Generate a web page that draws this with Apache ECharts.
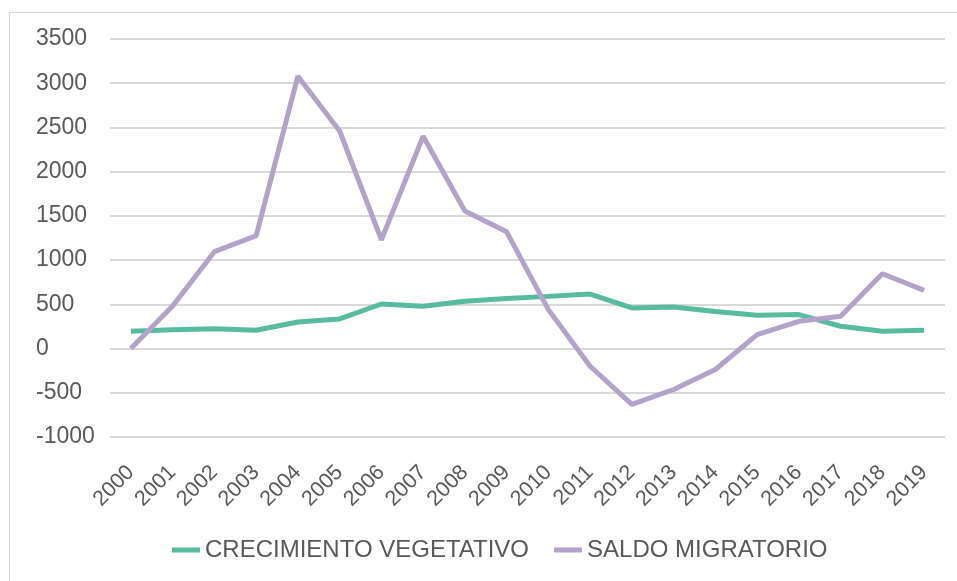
<!DOCTYPE html>
<html lang="es">
<head>
  <meta charset="UTF-8" />
  <title>Crecimiento vegetativo y saldo migratorio</title>
  <script src="https://cdn.jsdelivr.net/npm/echarts@6/dist/echarts.min.js"></script>
  <style>
    html, body { margin: 0; padding: 0; background: #fff; }
    #frame { position: absolute; left: 9px; top: 12px; width: 960px; height: 600px;
      border-top: 1px solid #d9d9d9; border-left: 1px solid #d9d9d9; }
    #chart { position: absolute; left: 0; top: 0; width: 957px; height: 581px; }
  </style>
</head>
<body>
  <div id="frame"></div>
  <div id="chart"></div>
  <script>
    const years = ['2000', '2001', '2002', '2003', '2004', '2005', '2006', '2007', '2008', '2009',
      '2010', '2011', '2012', '2013', '2014', '2015', '2016', '2017', '2018', '2019'];
    const crecimientoVegetativo = [195, 214, 225, 207, 300, 335, 504, 478, 535, 565,
      590, 616, 459, 470, 420, 376, 384, 252, 196, 207];
    const saldoMigratorio = [0, 480, 1095, 1275, 3080, 2460, 1230, 2400, 1555, 1320,
      440, -200, -632, -463, -237, 158, 308, 365, 846, 658];

    const GREEN = '#56bb9f';
    const PURPLE = '#b3a3cb';
    const TEXT = '#595959';

    const chart = echarts.init(document.getElementById('chart'));
    chart.setOption({
      animation: false,
      textStyle: { fontFamily: '"Liberation Sans", Arial, sans-serif' },
      grid: { left: 110, right: 12, top: 39, height: 398 },
      legend: {
        bottom: 14,
        left: 167,
        itemGap: 25,
        itemWidth: 28,
        itemHeight: 5,
        icon: 'rect',
        textStyle: { color: TEXT, fontSize: 24 },
        data: ['CRECIMIENTO VEGETATIVO', 'SALDO MIGRATORIO']
      },
      xAxis: {
        type: 'category',
        data: years,
        boundaryGap: true,
        axisLine: { show: false },
        axisTick: { show: false },
        axisLabel: { rotate: 45, color: TEXT, fontSize: 21.5, margin: 32, interval: 0 }
      },
      yAxis: {
        type: 'value',
        min: -1000,
        max: 3500,
        interval: 500,
        axisLine: { show: false },
        axisTick: { show: false },
        axisLabel: { color: TEXT, fontSize: 23, align: 'left', margin: 74,
          formatter: (v) => String(v) },
        splitLine: { lineStyle: { color: '#d9d9d9', width: 2 } }
      },
      series: [
        {
          name: 'CRECIMIENTO VEGETATIVO',
          type: 'line',
          data: crecimientoVegetativo,
          symbol: 'none',
          color: GREEN,
          lineStyle: { color: GREEN, width: 5 }
        },
        {
          name: 'SALDO MIGRATORIO',
          type: 'line',
          data: saldoMigratorio,
          symbol: 'none',
          color: PURPLE,
          lineStyle: { color: PURPLE, width: 5 }
        }
      ]
    });
  </script>
</body>
</html>
